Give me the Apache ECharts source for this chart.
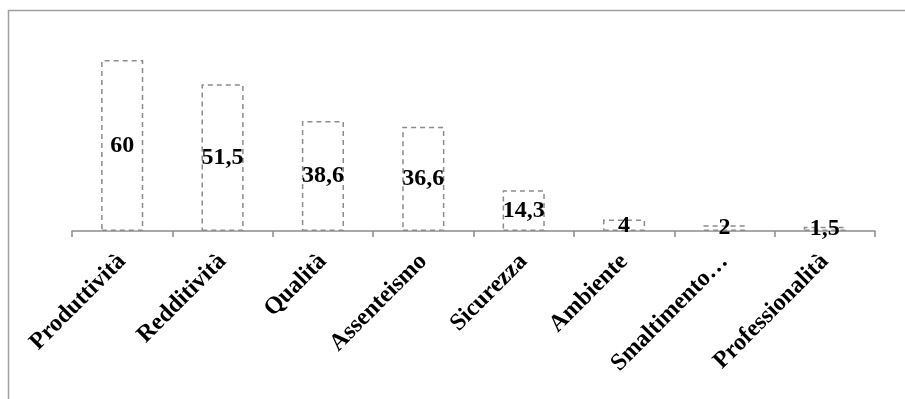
<!DOCTYPE html>
<html><head><meta charset="utf-8">
<script src="https://cdn.jsdelivr.net/npm/echarts@6/dist/echarts.min.js"></script>
<style>html,body{margin:0;padding:0;background:#fff}#c{width:905px;height:399px}</style>
</head><body><div id="c"></div>
<script>
const categories = ['Produttività','Redditività','Qualità','Assenteismo','Sicurezza','Ambiente','Smaltimento…','Professionalità'];
const values = [60, 51.5, 38.6, 36.6, 14.3, 4, 2, 1.5];
const valueLabels = ['60','51,5','38,6','36,6','14,3','4','2','1,5'];

const chart = echarts.init(document.getElementById('c'));
const font = '"Liberation Serif","Times New Roman",serif';
chart.setOption({
  animation: false,
  graphic: [{type:'rect', shape:{x:8.5,y:10.5,width:1000,height:1000}, style:{fill:'none', stroke:'#a0a0a0', lineWidth:1.5}}],
  grid: {left:72, right:30, top:31.5, bottom:168},
  xAxis: {
    type:'category', data:categories,
    axisLine:{lineStyle:{color:'#8c8c8c', width:1.5}},
    axisTick:{show:true, length:6, lineStyle:{color:'#8c8c8c', width:1.5}},
    axisLabel:{rotate:45, interval:0, margin:27, color:'#000', fontFamily:font, fontWeight:'bold', fontSize:24}
  },
  yAxis: {type:'value', min:0, max:70, show:false, splitLine:{show:false}},
  series: [{
    type:'bar', data:values, barWidth:'42%',
    itemStyle:{color:'#fff', borderColor:'#8c8c8c', borderWidth:1.5, borderType:[5,4]},
    label:{show:true, position:'inside', color:'#000', fontFamily:font, fontWeight:'bold', fontSize:24,
      formatter: p => valueLabels[p.dataIndex]}
  }]
});
</script></body></html>
